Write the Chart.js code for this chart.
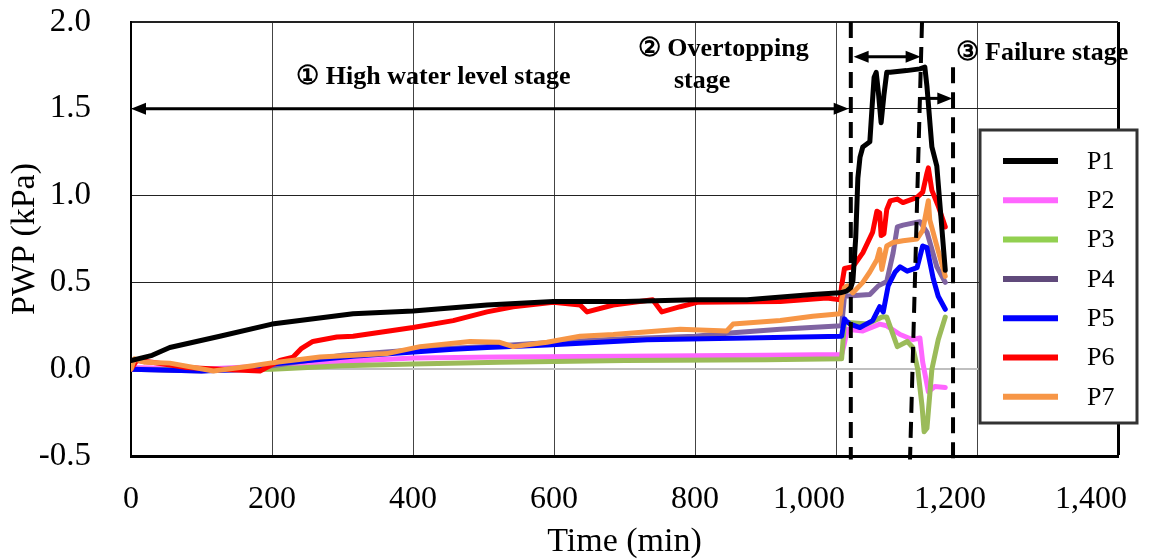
<!DOCTYPE html>
<html lang="en">
<head>
<meta charset="UTF-8">
<title>PWP vs Time</title>
<script src="https://cdn.jsdelivr.net/npm/chart.js"></script>
<style>
  html, body { margin: 0; padding: 0; background: #fff; }
  .wrap { width: 1168px; height: 560px; }
</style>
</head>
<body>
<div class="wrap"><canvas id="pwpChart" width="1168" height="560"></canvas></div>
<script>
// series values (time in min, PWP in kPa)
const p1Time = [0, 30, 55, 126, 200, 315, 400, 505, 599, 700, 800, 874, 967, 1006, 1015, 1021, 1024, 1028, 1031, 1034, 1038, 1048, 1051, 1054, 1057, 1060, 1064, 1068, 1072, 1077, 1100, 1119, 1126, 1129, 1136, 1143, 1155];
const p1Val  = [0.05, 0.08, 0.125, 0.19, 0.26, 0.32, 0.335, 0.37, 0.39, 0.39, 0.40, 0.40, 0.43, 0.44, 0.45, 0.47, 0.51, 0.76, 1.10, 1.22, 1.28, 1.31, 1.50, 1.68, 1.71, 1.60, 1.42, 1.58, 1.71, 1.71, 1.72, 1.73, 1.74, 1.63, 1.28, 1.17, 0.57];

const p2Time = [0, 100, 200, 300, 400, 523, 700, 900, 1008, 1012, 1016, 1038, 1062, 1072, 1091, 1109, 1119, 1123, 1131, 1140, 1155];
const p2Val  = [0.01, 0.0, 0.02, 0.045, 0.065, 0.07, 0.075, 0.08, 0.085, 0.15, 0.23, 0.22, 0.26, 0.25, 0.20, 0.17, 0.18, 0.04, -0.13, -0.10, -0.105];

const p3Time = [0, 100, 200, 300, 400, 523, 700, 900, 1008, 1012, 1044, 1065, 1072, 1087, 1101, 1109, 1116, 1122, 1125, 1129, 1136, 1145, 1155];
const p3Val  = [0.0, -0.005, 0.0, 0.02, 0.03, 0.04, 0.05, 0.055, 0.06, 0.27, 0.26, 0.30, 0.30, 0.13, 0.16, 0.125, 0.0, -0.21, -0.36, -0.34, 0.0, 0.17, 0.30];

const p4Time = [0, 100, 200, 300, 400, 500, 600, 700, 800, 854, 921, 1008, 1012, 1048, 1060, 1072, 1081, 1087, 1095, 1119, 1129, 1143, 1155];
const p4Val  = [0.0, -0.01, 0.02, 0.08, 0.11, 0.13, 0.155, 0.175, 0.19, 0.21, 0.23, 0.25, 0.42, 0.43, 0.48, 0.505, 0.67, 0.82, 0.83, 0.85, 0.79, 0.59, 0.50];

const p5Time = [0, 100, 173, 200, 315, 457, 505, 590, 732, 874, 1008, 1012, 1014, 1020, 1034, 1052, 1062, 1067, 1074, 1084, 1091, 1101, 1115, 1123, 1129, 1138, 1145, 1155];
const p5Val  = [0.0, -0.01, 0.0, 0.03, 0.075, 0.115, 0.125, 0.14, 0.17, 0.18, 0.19, 0.29, 0.28, 0.26, 0.24, 0.28, 0.36, 0.33, 0.48, 0.56, 0.59, 0.565, 0.585, 0.71, 0.70, 0.52, 0.42, 0.345];

const p6Time = [0, 8, 30, 79, 126, 183, 211, 230, 242, 258, 292, 315, 400, 457, 505, 542, 599, 637, 647, 684, 740, 753, 779, 803, 921, 987, 1006, 1008, 1012, 1024, 1038, 1052, 1058, 1062, 1064, 1068, 1072, 1077, 1087, 1095, 1115, 1123, 1129, 1131, 1136, 1145, 1155];
const p6Val  = [0.0, 0.05, 0.04, 0.01, 0.0, -0.01, 0.05, 0.07, 0.12, 0.16, 0.185, 0.19, 0.24, 0.28, 0.33, 0.36, 0.385, 0.37, 0.33, 0.37, 0.40, 0.33, 0.36, 0.385, 0.39, 0.41, 0.40, 0.48, 0.58, 0.59, 0.67, 0.79, 0.91, 0.90, 0.77, 0.78, 0.92, 0.97, 0.98, 0.96, 0.99, 1.02, 1.13, 1.16, 1.03, 0.94, 0.82];

const p7Time = [0, 5, 20, 55, 117, 173, 197, 268, 363, 410, 481, 523, 542, 590, 637, 684, 779, 845, 854, 921, 967, 1006, 1008, 1012, 1016, 1024, 1038, 1048, 1058, 1062, 1065, 1072, 1081, 1095, 1115, 1123, 1131, 1133, 1143, 1155];
const p7Val  = [0.0, 0.06, 0.04, 0.035, -0.01, 0.02, 0.035, 0.07, 0.09, 0.13, 0.16, 0.155, 0.13, 0.155, 0.19, 0.20, 0.23, 0.22, 0.26, 0.28, 0.305, 0.32, 0.40, 0.47, 0.48, 0.44, 0.50, 0.56, 0.63, 0.69, 0.575, 0.71, 0.73, 0.74, 0.75, 0.80, 0.97, 0.86, 0.71, 0.535];

const seriesNames  = ["P1", "P2", "P3", "P4", "P5", "P6", "P7"];
const seriesColors = ["#000000", "#ff66ff", "#9bbb59", "#8064a2", "#0000ff", "#ff0000", "#f79646"];
const legendColors = ["#000000", "#ff66ff", "#92d050", "#604a7b", "#0000ff", "#ff0000", "#f79646"];
const seriesOrder  = [0, 6, 5, 4, 3, 2, 1];
const seriesTimes  = [p1Time, p2Time, p3Time, p4Time, p5Time, p6Time, p7Time];
const seriesVals   = [p1Val, p2Val, p3Val, p4Val, p5Val, p6Val, p7Val];

// stage annotations, in data units
const boundaryLines = [
    { x1: 1021, y1: 2.0, x2: 1021, y2: -0.52 },
    { x1: 1122, y1: 2.0, x2: 1105, y2: -0.52 },
    { x1: 1166, y1: 1.74, x2: 1166, y2: -0.55 }
];
const stageArrows = [
    { from: 0, to: 1018, y: 1.5, both: true },
    { from: 1025, to: 1120, y: 1.80, both: true },
    { from: 1120, to: 1165, y: 1.56, both: false }
];
const stageLabels = [
    { text: "\u2460 High water level stage", x: 429, y: 1.68 },
    { text: "\u2461 Overtopping", x: 840, y: 1.84 },
    { text: "stage", x: 810, y: 1.66 },
    { text: "\u2462 Failure stage", x: 1292, y: 1.82 }
];

const serif = "'Liberation Serif', 'Times New Roman', 'DejaVu Serif', serif";
const commaLabelShift = -27; // the 4-digit labels sit left of their gridline in the figure

function arrowHead(ctx, x, y, dir) {
    ctx.beginPath();
    ctx.moveTo(x, y);
    ctx.lineTo(x - dir * 15, y - 6);
    ctx.lineTo(x - dir * 15, y + 6);
    ctx.closePath();
    ctx.fill();
}

const stagePlugin = {
    id: "stages",
    beforeDraw(chart) {
        const xs = chart.scales.x;
        xs.getLabelItems(chart.chartArea).forEach(item => {
            if (!item._moved && String(item.label).length > 3) {
                item.options.translation[0] += commaLabelShift;
                item._moved = true;
            }
        });
    },
    afterDatasetsDraw(chart) {
        const { ctx, scales: { x, y } } = chart;
        ctx.save();
        ctx.strokeStyle = "#000";
        ctx.fillStyle = "#000";

        // dashed stage boundaries
        ctx.lineWidth = 4;
        ctx.setLineDash([16, 9]);
        boundaryLines.forEach(b => {
            ctx.beginPath();
            ctx.moveTo(x.getPixelForValue(b.x1), y.getPixelForValue(b.y1));
            ctx.lineTo(x.getPixelForValue(b.x2), y.getPixelForValue(b.y2));
            ctx.stroke();
        });

        // arrows
        ctx.setLineDash([]);
        ctx.lineWidth = 3;
        stageArrows.forEach(a => {
            const xa = x.getPixelForValue(a.from);
            const xb = x.getPixelForValue(a.to);
            const ya = y.getPixelForValue(a.y);
            ctx.beginPath();
            ctx.moveTo(a.both ? xa + 8 : xa, ya);
            ctx.lineTo(xb - 8, ya);
            ctx.stroke();
            arrowHead(ctx, xb, ya, 1);
            if (a.both) arrowHead(ctx, xa, ya, -1);
        });

        // stage texts
        ctx.font = "bold 26px " + serif;
        ctx.textAlign = "center";
        ctx.textBaseline = "middle";
        stageLabels.forEach(l => {
            ctx.fillText(l.text, x.getPixelForValue(l.x), y.getPixelForValue(l.y));
        });
        ctx.restore();
    },
    afterDraw(chart) {
        // boxed legend, as in the original figure
        const ctx = chart.ctx;
        ctx.save();
        ctx.fillStyle = "#fff";
        ctx.fillRect(980, 130, 157, 293);
        ctx.strokeStyle = "#333";
        ctx.lineWidth = 3;
        ctx.strokeRect(980, 130, 157, 293);
        ctx.font = "26px " + serif;
        ctx.textBaseline = "middle";
        ctx.textAlign = "left";
        chart.data.datasets.forEach((ds, i) => {
            const yy = 161 + i * 39.3;
            ctx.strokeStyle = legendColors[i];
            ctx.lineWidth = 6;
            ctx.beginPath();
            ctx.moveTo(1003, yy);
            ctx.lineTo(1058, yy);
            ctx.stroke();
            ctx.fillStyle = "#000";
            ctx.fillText(ds.label, 1087, yy + 1);
        });
        ctx.restore();
    }
};

const datasets = seriesNames.map((name, i) => ({
    label: name,
    data: seriesTimes[i].map((t, k) => ({ x: t, y: seriesVals[i][k] })),
    borderColor: seriesColors[i],
    backgroundColor: seriesColors[i],
    borderWidth: 5,
    pointRadius: 0,
    tension: 0,
    fill: false,
    borderJoinStyle: "round",
    borderCapStyle: "round",
    order: seriesOrder[i]
}));

new Chart(document.getElementById("pwpChart"), {
    type: "line",
    data: { datasets: datasets },
    options: {
        responsive: false,
        animation: false,
        devicePixelRatio: 1,
        layout: { padding: { top: 22, right: 50, bottom: 0, left: 0 } },
        plugins: {
            legend: { display: false },
            tooltip: { enabled: false }
        },
        scales: {
            x: {
                type: "linear",
                min: 0,
                max: 1400,
                afterFit(s) { s.height = 104; },
                ticks: {
                    stepSize: 200,
                    padding: 2,
                    color: "#000",
                    font: { family: serif, size: 32 },
                    callback: v => v.toLocaleString("en-US")
                },
                grid: {
                    drawTicks: true,
                    tickLength: 22,
                    tickColor: "rgba(0,0,0,0)",
                    color: ctx => ctx.tick && ctx.tick.value === 1400 ? "#000" : "#444",
                    lineWidth: ctx => ctx.tick && ctx.tick.value === 1400 ? 3 : 1
                },
                border: { color: "#000", width: 3 },
                title: {
                    display: true,
                    text: "Time (min)",
                    color: "#000",
                    font: { family: serif, size: 34, lineHeight: 1 },
                    padding: { top: 0, bottom: 1 }
                }
            },
            y: {
                min: -0.5,
                max: 2.0,
                afterFit(s) { s.width = 131; },
                ticks: {
                    stepSize: 0.5,
                    padding: 2,
                    color: "#000",
                    font: { family: serif, size: 33 },
                    callback: v => v.toFixed(1)
                },
                grid: {
                    drawTicks: true,
                    tickLength: 38,
                    tickColor: "rgba(0,0,0,0)",
                    color: ctx => {
                        if (!ctx.tick) return "#222";
                        if (ctx.tick.value === 0) return "#bfbfbf";
                        return "#222";
                    },
                    lineWidth: ctx => {
                        if (!ctx.tick) return 1;
                        if (ctx.tick.value === 0) return 2;
                        if (ctx.tick.value === 2) return 2;
                        return 1;
                    }
                },
                border: { color: "#000", width: 2 },
                title: {
                    display: true,
                    text: "PWP (kPa)",
                    color: "#000",
                    font: { family: serif, size: 34, lineHeight: 1 },
                    padding: { top: 8, bottom: 0 }
                }
            }
        }
    },
    plugins: [stagePlugin]
});
</script>
</body>
</html>
